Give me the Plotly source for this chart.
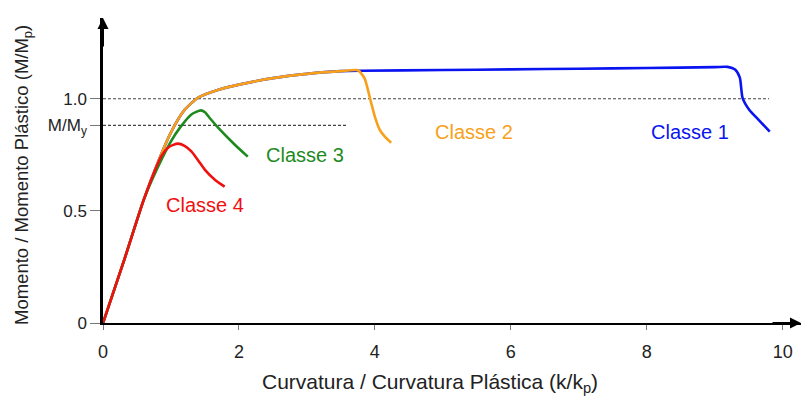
import plotly.graph_objects as go

# Moment-curvature curves for the four cross-section classes
shared_k = [0.0, 0.3, 0.6, 0.8, 1.0, 1.2, 1.4, 1.7, 2.0, 2.5, 3.0, 3.5]
shared_m = [0.0, 0.27, 0.55, 0.71, 0.85, 0.95, 1.005, 1.04, 1.063, 1.092, 1.111, 1.123]

classe1_k = shared_k + [3.8, 5.0, 6.0, 7.0, 8.0, 9.0, 9.19, 9.3, 9.37, 9.41, 9.51, 9.65, 9.81]
classe1_m = shared_m + [1.125, 1.128, 1.131, 1.134, 1.137, 1.141, 1.142, 1.13, 1.094, 1.004, 0.95, 0.905, 0.853]

classe2_k = shared_k + [3.75, 3.85, 3.93, 4.0, 4.07, 4.15, 4.24]
classe2_m = shared_m + [1.127, 1.09, 1.0, 0.92, 0.862, 0.83, 0.804]

classe3_k = [0.0, 0.3, 0.6, 0.8, 1.0, 1.13, 1.3, 1.44, 1.5, 1.57, 1.7, 1.94, 2.13]
classe3_m = [0.0, 0.27, 0.55, 0.69, 0.81, 0.87, 0.93, 0.948, 0.94, 0.914, 0.869, 0.795, 0.742]

classe4_k = [0.0, 0.3, 0.6, 0.75, 0.86, 0.97, 1.1, 1.2, 1.3, 1.4, 1.5, 1.65, 1.79]
classe4_m = [0.0, 0.27, 0.55, 0.67, 0.745, 0.785, 0.80, 0.79, 0.765, 0.725, 0.683, 0.638, 0.608]

m_my = 0.881
y_tickvals = [0, 0.5, m_my, 1.0]
y_ticktext = ["0", "0.5", "M/M<sub>y</sub>", "1.0"]
x_tickvals = [0, 2, 4, 6, 8, 10]

x_title = "Curvatura / Curvatura Plástica (k/k<sub>p</sub>)"
y_title = "Momento / Momento Plástico (M/M<sub>p</sub>)"

series = [
    ("Classe 1", classe1_k, classe1_m, "#0a14f0"),
    ("Classe 2", classe2_k, classe2_m, "#f7a11a"),
    ("Classe 3", classe3_k, classe3_m, "#1e8a1e"),
    ("Classe 4", classe4_k, classe4_m, "#f01010"),
]
label_pos = {
    "Classe 1": (8.63, 0.853),
    "Classe 2": (5.46, 0.853),
    "Classe 3": (2.97, 0.75),
    "Classe 4": (1.5, 0.527),
}

FONT = "Liberation Sans, Arial, sans-serif"

fig = go.Figure()

# Reference dashed levels
for y_end, x_end in [(1.0, 9.8), (m_my, 3.6)]:
    fig.add_trace(go.Scatter(x=[0, x_end], y=[y_end, y_end], mode="lines",
                             line=dict(color="#444444", width=1.2, dash="3px,2px"),
                             hoverinfo="skip", showlegend=False))

for name, k, m, color in series:
    fig.add_trace(go.Scatter(x=k, y=m, mode="lines", name=name,
                             line=dict(color=color, width=2.6, shape="spline", smoothing=0.6),
                             showlegend=False))
    lx, ly = label_pos[name]
    fig.add_annotation(x=lx, y=ly, text=name, showarrow=False,
                       font=dict(family=FONT, size=20, color=color))

# Axis arrows
fig.add_annotation(x=10.27, y=0, ax=-30, ay=0, xref="x", yref="y",
                   showarrow=True, arrowhead=2, arrowsize=1.1, arrowwidth=2,
                   arrowcolor="black", text="")
fig.add_annotation(x=0, y=1.36, ax=0, ay=30, xref="x", yref="y",
                   showarrow=True, arrowhead=2, arrowsize=1.1, arrowwidth=2,
                   arrowcolor="black", text="")

# Axis titles
fig.add_annotation(x=4.81, y=0, xref="x", yref="paper", yshift=-60,
                   xanchor="center", yanchor="middle", showarrow=False,
                   text=x_title, font=dict(family=FONT, size=21, color="#222222"))
fig.add_annotation(x=0, y=0.66, xref="paper", yref="y", xshift=-80,
                   xanchor="center", yanchor="middle", showarrow=False,
                   textangle=-90, text=y_title,
                   font=dict(family=FONT, size=18.5, color="#222222"))

fig.update_layout(
    width=806, height=398,
    margin=dict(l=103, r=5, t=18, b=75),
    plot_bgcolor="white", paper_bgcolor="white",
    font=dict(family=FONT, size=17, color="#222222"),
    xaxis=dict(range=[0, 10.27], tickvals=x_tickvals, ticks="outside",
               ticklen=5, tickcolor="#777777", showgrid=False, zeroline=False,
               showline=True, linecolor="black", linewidth=2,
               ticklabelstandoff=6, tickfont=dict(size=18)),
    yaxis=dict(range=[0, 1.36], tickvals=y_tickvals, ticktext=y_ticktext,
               ticks="outside", ticklen=10, tickcolor="#777777",
               showgrid=False, zeroline=False, showline=True,
               linecolor="black", linewidth=2.5, tickfont=dict(size=17),
               ticklabelstandoff=0),
)

fig.write_html("out.html")
